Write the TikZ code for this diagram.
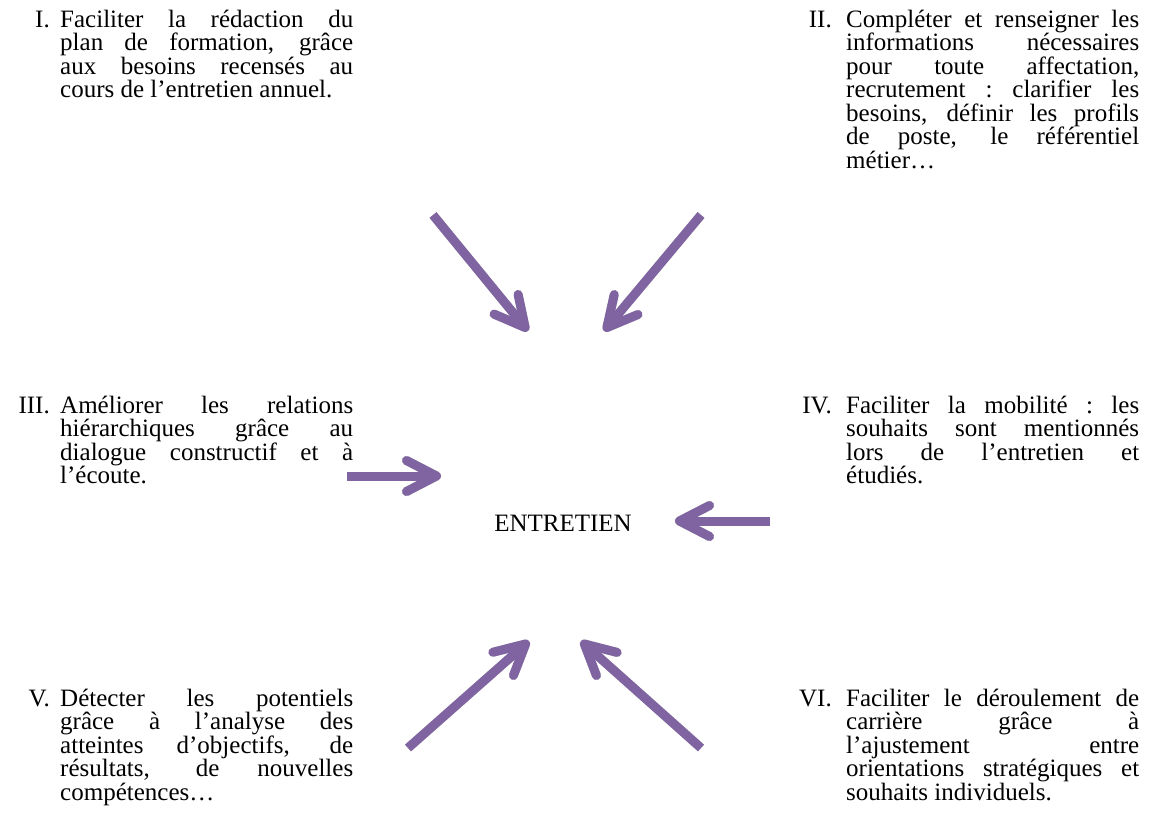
\documentclass[tikz,border=0pt]{standalone}
\usepackage{fontspec}
\setmainfont{Liberation Serif}
\usetikzlibrary{arrows.meta}
\definecolor{lila}{HTML}{8064A2}
\definecolor{grau}{HTML}{C8C8C8}
\newcommand{\stuetze}{\rule{0pt}{18pt}}
\newcommand{\zeile}[1]{\leavevmode\hbox to 293pt{\spaceskip=0.25em plus 1fil\xspaceskip=\spaceskip\relax #1}\\}
\newcommand{\letzte}[1]{\leavevmode\hbox{\spaceskip=0.25em\xspaceskip=\spaceskip\relax #1}}

\begin{document}
\begin{tikzpicture}[x=1pt,y=-1pt,
  txt/.style={anchor=north west, inner sep=0pt, text width=293pt, align=left,
    font=\fontsize{25}{23.5}\selectfont, execute at begin node=\stuetze},
  num/.style={anchor=north east, inner sep=0pt,
    font=\fontsize{25}{23.5}\selectfont, execute at begin node=\stuetze},
  pfeil/.style={line width=9pt, line cap=butt,
    -{Straight Barb[length=30pt, width=31pt, round]}}]
\useasboundingbox (0,0) rectangle (1150,814);

% the six texts
\node[num] (n1) at (50,9) {I.};
\node[txt] (t1) at (60,9) {\zeile{Faciliter la rédaction du}\zeile{plan de formation, grâce}\zeile{aux besoins recensés au}\letzte{cours de l’entretien annuel.}};

\node[num] (n2) at (832,9) {II.};
\node[txt] (t2) at (846,9) {\zeile{Compléter et renseigner les}\zeile{informations nécessaires}\zeile{pour toute affectation,}\zeile{recrutement : clarifier les}\zeile{besoins, définir les profils}\zeile{de poste, le référentiel}\letzte{métier…}};

\node[num] (n3) at (50,395) {III.};
\node[txt] (t3) at (60,395) {\zeile{Améliorer les relations}\zeile{hiérarchiques grâce au}\zeile{dialogue constructif et à}\letzte{l’écoute.}};

\node[num] (n4) at (832,395) {IV.};
\node[txt] (t4) at (846,395) {\zeile{Faciliter la mobilité : les}\zeile{souhaits sont mentionnés}\zeile{lors de l’entretien et}\letzte{étudiés.}};

\node[num] (n5) at (50,688) {V.};
\node[txt] (t5) at (60,688) {\zeile{Détecter les potentiels}\zeile{grâce à l’analyse des}\zeile{atteintes d’objectifs, de}\zeile{résultats, de nouvelles}\letzte{compétences…}};

\node[num] (n6) at (832,688) {VI.};
\node[txt] (t6) at (846,688) {\zeile{Faciliter le déroulement de}\zeile{carrière grâce à}\zeile{l’ajustement entre}\zeile{orientations stratégiques et}\letzte{souhaits individuels.}};

% centre
\node[font=\fontsize{25}{23.5}\selectfont] (mitte) at (563,523) {ENTRETIEN};

% arrows with their grey shadow
\foreach \i/\xa/\ya/\xb/\yb in {1/433/215/528/331, 2/701/215/604/331, 3/347/476/441/476,
                                4/770/521/675/521, 5/408/748/529/641, 6/701/748/581/641} {
    \coordinate (s\i) at (\xa,\ya);
    \coordinate (e\i) at (\xb,\yb);
    \draw[pfeil, grau, shift={(2,4)}] (s\i) -- (e\i);
    \draw[pfeil, lila] (s\i) -- (e\i);
}
\end{tikzpicture}
\end{document}
